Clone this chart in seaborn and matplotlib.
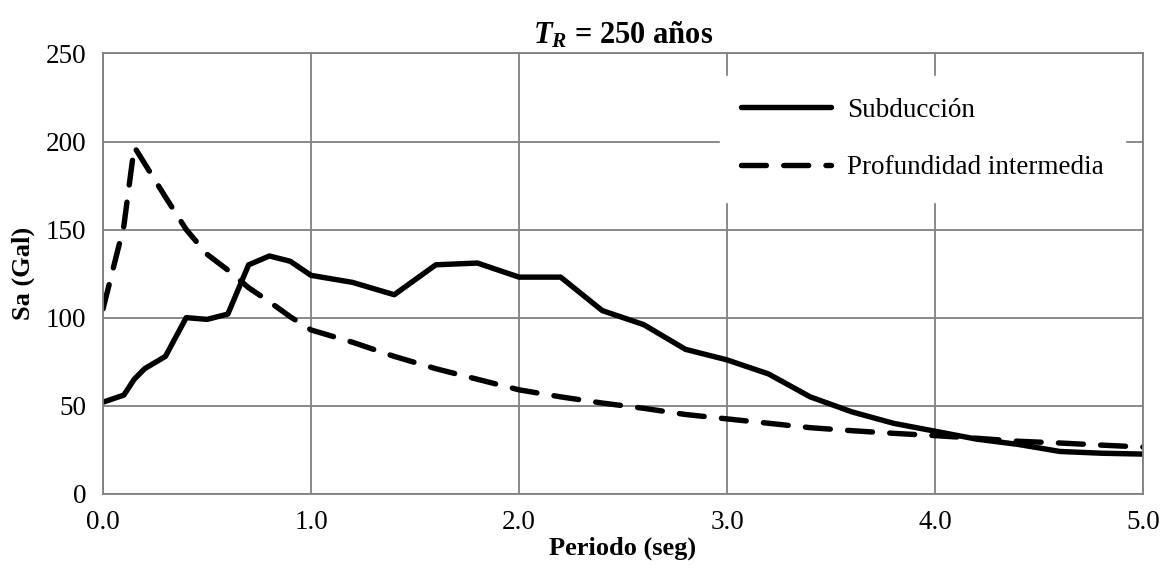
import numpy as np
import pandas as pd
import matplotlib
matplotlib.use('Agg')
import matplotlib.pyplot as plt
import seaborn as sns

# Espectros de peligro uniforme, TR = 250 anos
periodo_sub = [0.0, 0.1, 0.15, 0.2, 0.3, 0.4, 0.5, 0.6, 0.7, 0.8, 0.9, 1.0,
               1.2, 1.4, 1.6, 1.8, 2.0, 2.2, 2.4, 2.6, 2.8, 3.0, 3.2, 3.4,
               3.6, 3.8, 4.0, 4.2, 4.4, 4.6, 4.8, 5.0]
sa_sub = [52, 56, 65, 71, 78, 100, 99, 102, 130, 135, 132, 124,
          120, 113, 130, 131, 123, 123, 104, 96, 82, 76, 68, 55,
          46.5, 40, 35.5, 31, 28, 24, 23, 22.5]

periodo_int = [0.0, 0.1, 0.15, 0.2, 0.3, 0.4, 0.5, 0.6, 0.7, 0.8, 0.9, 1.0,
               1.2, 1.4, 1.6, 1.8, 2.0, 2.2, 2.4, 2.6, 2.8, 3.0, 3.2, 3.4,
               3.6, 3.8, 4.0, 4.2, 4.4, 4.6, 4.8, 5.0]
sa_int = [105, 152, 197, 187.5, 168.5, 150, 136, 127, 117, 109, 100.5, 93,
          86, 78, 71, 65, 59, 55, 51.5, 48.5, 45, 42.5, 40, 37.5,
          35.8, 34.3, 33, 31.5, 29.8, 28.8, 27.6, 26.5]

sub = pd.DataFrame({'T': periodo_sub, 'Sa': sa_sub})
inter = pd.DataFrame({'T': periodo_int, 'Sa': sa_int})

sns.set_style('white')
plt.rcParams['font.family'] = ['Liberation Serif', 'DejaVu Serif']
plt.rcParams['mathtext.fontset'] = 'custom'
plt.rcParams['mathtext.it'] = 'Liberation Serif:italic:bold'
plt.rcParams['mathtext.rm'] = 'Liberation Serif:bold'
plt.rcParams['text.color'] = 'black'
plt.rcParams['axes.labelcolor'] = 'black'

fig = plt.figure(figsize=(11.63, 5.69), dpi=100)
ax = fig.add_axes([0.0886, 0.1323, 0.8942, 0.7737])

grid_c = '#808080'
sns.lineplot(data=sub, x='T', y='Sa', ax=ax, color='black', linewidth=3.9,
             label='Subducción', solid_capstyle='round', solid_joinstyle='round')
sns.lineplot(data=inter, x='T', y='Sa', ax=ax, color='black', linewidth=3.9,
             label='Profundidad intermedia',
             dash_capstyle='round', dash_joinstyle='round')
ax.lines[1].set_linestyle((0, (4.6, 3.2)))

ax.set_xlim(0, 5)
ax.set_ylim(0, 250)
ax.set_xticks(np.arange(0, 5.01, 1.0))
ax.set_xticklabels([f'{v:.1f}' for v in np.arange(0, 5.01, 1.0)])
ax.set_yticks(np.arange(0, 251, 50))
ax.grid(True, color=grid_c, linewidth=1.3)
ax.set_axisbelow(True)
for s in ax.spines.values():
    s.set_color(grid_c)
    s.set_linewidth(1.3)
ax.tick_params(axis='both', which='major', length=8, width=1.3, color=grid_c,
               labelsize=19.5, pad=4, direction='out', labelcolor='black')

ax.set_xlabel('Periodo (seg)', fontsize=19, fontweight='bold', labelpad=1)
ax.set_ylabel('Sa (Gal)', fontsize=19, fontweight='bold', labelpad=8)
ax.set_title(r'$T_R$ = 250 años', fontsize=22, fontweight='bold', pad=7)

leg = ax.legend(loc='center', bbox_to_anchor=(0.788, 0.806), fontsize=19.5,
                frameon=True, handlelength=3.3, handletextpad=0.6,
                labelspacing=1.2, borderpad=0.8, fancybox=False)
leg.get_frame().set_facecolor('white')
leg.get_frame().set_edgecolor('white')
leg.get_frame().set_alpha(1)
for t in leg.get_texts():
    t.set_color('black')

fig.savefig('out.png', dpi=100)
